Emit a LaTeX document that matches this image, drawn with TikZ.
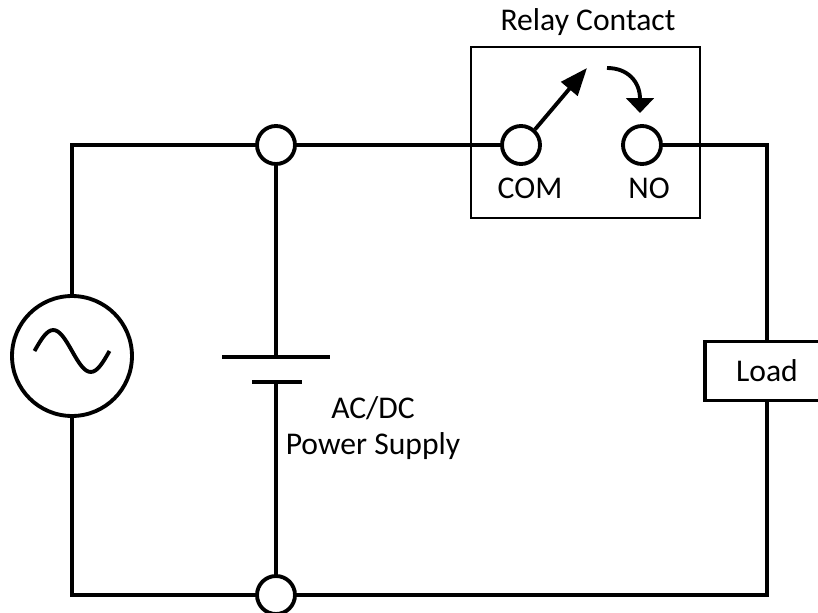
\documentclass[tikz,border=0pt]{standalone}
\usepackage{fontspec}
\setmainfont{Carlito}
\usetikzlibrary{arrows.meta,positioning}

\tikzset{
    wire/.style={line width=2.2pt},
    terminal/.style={circle, draw, line width=2.2pt, inner sep=0pt,
        minimum size=0.76cm, fill=white},
    source/.style={circle, draw, line width=2.2pt, inner sep=0pt,
        minimum size=2.4cm, fill=white},
    loadbox/.style={draw, line width=2.2pt, inner sep=0pt,
        minimum width=2.48cm, minimum height=1.18cm},
    relaybox/.style={draw, line width=1.6pt, inner sep=0pt,
        minimum width=4.58cm, minimum height=3.42cm},
    lbl/.style={font=\fontsize{18}{21}\selectfont},
}

\begin{document}
\begin{tikzpicture}[x=0.02cm, y=-0.02cm]
    \useasboundingbox (0,0) rectangle (818,612);

    % Relay housing
    \node[relaybox] (relay) at (585.5,132.5) {};
    \node[lbl] (relaytitle) at (588,22) {Relay Contact};

    % Terminals and parts
    \node[terminal] (topj) at (276,145) {};
    \node[terminal] (botj) at (276,595) {};
    \node[terminal] (com) at (521,145) {};
    \node[terminal] (no) at (642,145) {};
    \node[source] (ac) at (72,356) {};
    \node[loadbox, lbl] (load) at (767,371) {Load};

    % Battery plates
    \coordinate (plus) at (276,357);
    \coordinate (minus) at (276,382);

    % Wiring
    \draw[wire] (ac) |- (topj);
    \draw[wire] (topj) -- (com);
    \draw[wire] (no) -| (load);
    \draw[wire] (load) |- (botj);
    \draw[wire] (botj) -| (ac);
    \draw[wire] (topj) -- (plus);
    \draw[wire] (minus) -- (botj);
    \draw[wire] (222,357) -- (330,357);
    \draw[wire] (252,382) -- (302,382);

    % Sine inside the source
    \draw[wire] (34.5,351) sin (53.25,330) cos (72,351)
        sin (90.75,372) cos (109.5,351);

    % Switch arm and motion arrow
    \coordinate (armtip) at (587,68);
    \coordinate (arcstart) at (607,68);
    \coordinate (arctip) at (640,113);
    \draw[wire, -{Triangle[length=0.55cm, width=0.42cm]}] (com.48) -- (armtip);
    \draw[wire, -{Triangle[length=0.3cm, width=0.55cm]}]
        (arcstart) .. controls (628,68) and (640,82) .. (arctip);

    % Labels
    \node[lbl] (comlbl) at (530,188) {COM};
    \node[lbl] (nolbl) at (649,188) {NO};
    \node[lbl] (psu1) at (373,408) {AC/DC};
    \node[lbl] (psu2) at (373,446) {Power Supply};
\end{tikzpicture}
\end{document}
